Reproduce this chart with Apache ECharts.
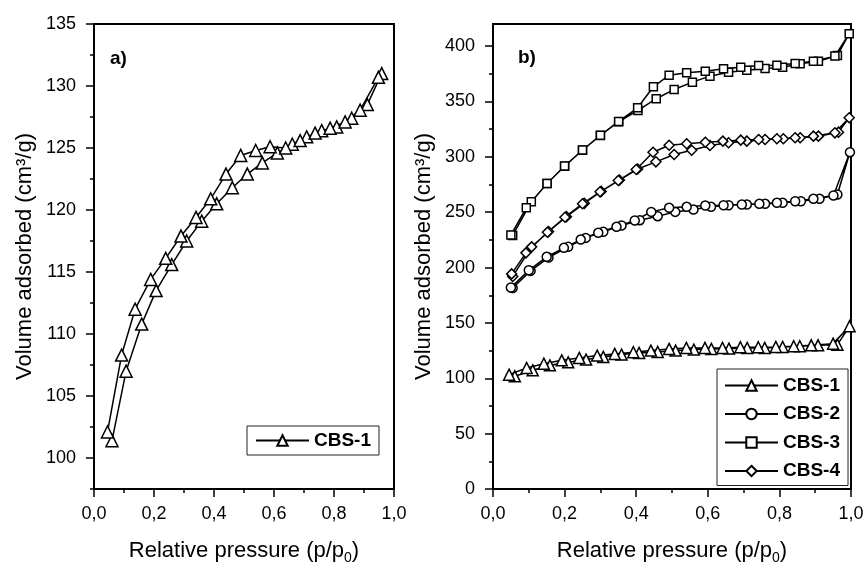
<!DOCTYPE html>
<html>
<head>
<meta charset="utf-8">
<script src="https://cdn.jsdelivr.net/npm/echarts@6/dist/echarts.min.js"></script>
<style>
  html, body { margin: 0; padding: 0; background: #fff; }
  #chart { width: 864px; height: 562px; }
</style>
</head>
<body>
<div id="chart"></div>
<script>
// panel a) CBS-1, adsorption + desorption branch
const aAdsP = [0.06, 0.107, 0.159, 0.207, 0.259, 0.309, 0.359, 0.409, 0.461, 0.511, 0.561, 0.611, 0.661, 0.709, 0.759, 0.809, 0.859, 0.911, 0.959]
const aAdsV = [101.4, 107.0, 110.8, 113.5, 115.6, 117.5, 119.1, 120.5, 121.8, 122.9, 123.8, 124.6, 125.3, 125.9, 126.4, 126.7, 127.4, 128.5, 131.0]
const aDesP = [0.948, 0.887, 0.837, 0.787, 0.737, 0.687, 0.639, 0.587, 0.539, 0.489, 0.44, 0.389, 0.34, 0.29, 0.239, 0.189, 0.137, 0.092, 0.045]
const aDesV = [130.7, 128.05, 127.1, 126.6, 126.2, 125.6, 125.0, 125.1, 124.8, 124.4, 122.9, 120.9, 119.4, 117.9, 116.1, 114.4, 112.0, 108.3, 102.1]

// panel b) all samples
const b1AdsP = [0.061, 0.111, 0.159, 0.21, 0.26, 0.308, 0.359, 0.408, 0.46, 0.51, 0.561, 0.61, 0.659, 0.71, 0.759, 0.809, 0.857, 0.908, 0.962, 0.996]
const b1AdsV = [101.8, 107.2, 111.7, 114.4, 116.9, 119.3, 121.4, 122.9, 123.8, 125.0, 125.9, 126.5, 126.8, 127.4, 127.4, 128.3, 128.9, 129.8, 130.4, 147.0]
const b1DesP = [0.95, 0.889, 0.84, 0.79, 0.741, 0.691, 0.641, 0.592, 0.54, 0.492, 0.441, 0.392, 0.34, 0.291, 0.241, 0.192, 0.142, 0.094, 0.045]
const b1DesV = [131.3, 129.8, 128.9, 128.3, 128.0, 128.0, 127.4, 127.4, 127.4, 126.5, 125.0, 123.5, 122.0, 120.5, 118.4, 116.2, 113.2, 109.3, 103.3]

const b2AdsP = [0.055, 0.105, 0.155, 0.21, 0.259, 0.308, 0.359, 0.41, 0.46, 0.509, 0.56, 0.609, 0.658, 0.709, 0.76, 0.809, 0.86, 0.912, 0.962, 0.997]
const b2AdsV = [181.5, 197.0, 209.0, 218.7, 226.8, 232.3, 238.0, 242.8, 246.4, 250.3, 252.4, 254.9, 256.3, 256.9, 257.6, 258.5, 259.9, 262.1, 266.0, 304.2]
const b2DesP = [0.951, 0.895, 0.844, 0.793, 0.744, 0.695, 0.644, 0.593, 0.541, 0.492, 0.442, 0.396, 0.345, 0.294, 0.245, 0.198, 0.15, 0.1, 0.05]
const b2DesV = [265.1, 262.1, 259.9, 258.5, 257.6, 256.9, 256.3, 256.0, 254.9, 254.0, 250.3, 242.5, 236.8, 231.4, 225.3, 217.8, 209.7, 197.6, 182.0]

const b3AdsP = [0.055, 0.107, 0.151, 0.2, 0.25, 0.3, 0.351, 0.405, 0.456, 0.506, 0.557, 0.606, 0.658, 0.709, 0.76, 0.809, 0.858, 0.909, 0.962, 0.995]
const b3AdsV = [229.0, 259.4, 275.9, 291.6, 306.0, 319.3, 331.7, 341.9, 352.5, 360.9, 367.5, 372.9, 376.5, 378.3, 379.8, 381.0, 384.1, 386.4, 391.6, 411.2]
const b3DesP = [0.955, 0.895, 0.844, 0.793, 0.742, 0.692, 0.644, 0.593, 0.541, 0.492, 0.448, 0.404, 0.351, 0.3, 0.25, 0.2, 0.151, 0.093, 0.05]
const b3DesV = [391.0, 386.4, 384.4, 382.8, 382.6, 381.0, 379.6, 377.4, 376.0, 373.8, 363.3, 344.3, 332.0, 319.5, 306.2, 291.8, 276.0, 254.0, 229.5]

const b4AdsP = [0.055, 0.108, 0.155, 0.205, 0.255, 0.302, 0.353, 0.404, 0.455, 0.506, 0.555, 0.606, 0.658, 0.709, 0.76, 0.811, 0.858, 0.909, 0.965, 0.995]
const b4AdsV = [192.0, 218.7, 232.5, 246.0, 258.0, 268.8, 279.0, 289.0, 295.5, 302.1, 306.0, 310.3, 312.7, 314.2, 315.7, 316.3, 317.2, 318.7, 322.3, 335.3]
const b4DesP = [0.955, 0.895, 0.844, 0.793, 0.742, 0.692, 0.642, 0.593, 0.541, 0.492, 0.447, 0.4, 0.35, 0.299, 0.25, 0.201, 0.152, 0.092, 0.052]
const b4DesV = [321.7, 318.7, 317.2, 316.3, 315.7, 315.1, 314.2, 313.2, 311.8, 310.5, 304.2, 288.6, 278.6, 268.4, 257.6, 245.5, 231.9, 213.3, 194.3]

// ticks
const yTicksA = [100, 105, 110, 115, 120, 125, 130, 135]
const yMinorA = [97.5, 102.5, 107.5, 112.5, 117.5, 122.5, 127.5, 132.5]
const yTicksB = [0, 50, 100, 150, 200, 250, 300, 350, 400]
const yMinorB = [25, 75, 125, 175, 225, 275, 325, 375]

const FONT = 'Liberation Sans, Arial, sans-serif'

// adsorption points then desorption points -> one closed loop
function loop(ap, av, dp, dv) {
  const out = []
  for (let i = 0; i < ap.length; i++) out.push([ap[i], av[i]])
  for (let i = 0; i < dp.length; i++) out.push([dp[i], dv[i]])
  return out
}

function xAxis(gridIndex) {
  return {
    gridIndex: gridIndex,
    type: 'value',
    min: 0,
    max: 1,
    interval: 0.2,
    axisLine: { show: true, onZero: false, lineStyle: { color: '#000', width: 2 } },
    axisTick: { show: true, length: 8, lineStyle: { color: '#000', width: 1.5 } },
    minorTick: { show: true, splitNumber: 2, length: 4, lineStyle: { color: '#000', width: 1.5 } },
    axisLabel: {
      color: '#000', fontSize: 18, fontFamily: FONT, margin: 16,
      formatter: (v) => v.toFixed(1).replace('.', ',')
    },
    splitLine: { show: false },
    name: '{t|Relative pressure (p/p}{s|0}{t|)}',
    nameLocation: 'middle',
    nameGap: 48,
    nameTextStyle: {
      rich: {
        t: { fontSize: 22, fontFamily: FONT, color: '#000' },
        s: { fontSize: 14, fontFamily: FONT, color: '#000', padding: [14, 0, 0, 0] }
      }
    }
  }
}

function yMajor(gridIndex, min, max, ticks) {
  return {
    gridIndex: gridIndex,
    type: 'value',
    position: 'left',
    offset: 0,
    min: min,
    max: max,
    axisLine: { show: true, lineStyle: { color: '#000', width: 2 } },
    axisTick: { show: true, customValues: ticks, length: 8, lineStyle: { color: '#000', width: 1.5 } },
    axisLabel: { customValues: ticks, color: '#000', fontSize: 18, fontFamily: FONT, margin: 18 },
    splitLine: { show: false },
    name: 'Volume adsorbed (cm³/g)',
    nameLocation: 'middle',
    nameGap: 58,
    nameTextStyle: { fontSize: 22, fontFamily: FONT, color: '#000' }
  }
}

function yMinor(gridIndex, min, max, ticks) {
  return {
    gridIndex: gridIndex,
    type: 'value',
    position: 'left',
    offset: 0,
    min: min,
    max: max,
    axisLine: { show: false },
    axisTick: { show: true, customValues: ticks, length: 4, lineStyle: { color: '#000', width: 1.5 } },
    axisLabel: { show: false },
    splitLine: { show: false }
  }
}

function series(name, xi, yi, data, symbol, size) {
  return {
    name: name,
    type: 'line',
    xAxisIndex: xi,
    yAxisIndex: yi,
    data: data,
    symbol: symbol,
    symbolSize: size,
    showSymbol: true,
    showAllSymbol: true,
    lineStyle: { color: '#000', width: 1.5 },
    itemStyle: { color: '#fff', borderColor: '#000', borderWidth: 1.5 },
    emphasis: { disabled: true }
  }
}

const legendText = { color: '#000', fontSize: 19, fontWeight: 'bold', fontFamily: FONT }

const chart = echarts.init(document.getElementById('chart'), null, { renderer: 'canvas' })
chart.setOption({
  animation: false,
  backgroundColor: '#fff',
  title: [
    { text: 'a)', left: 110, top: 49, textStyle: { color: '#000', fontSize: 19, fontWeight: 'bold', fontFamily: FONT }, padding: 0 },
    { text: 'b)', left: 518, top: 48, textStyle: { color: '#000', fontSize: 19, fontWeight: 'bold', fontFamily: FONT }, padding: 0 }
  ],
  grid: [
    { left: 94, top: 24, width: 300, height: 465, show: true, borderColor: '#000', borderWidth: 2, containLabel: false, outerBoundsMode: 'none' },
    { left: 493, top: 24, width: 358, height: 465, show: true, borderColor: '#000', borderWidth: 2, containLabel: false, outerBoundsMode: 'none' }
  ],
  legend: [
    {
      data: ['CBS-1'], left: 247, top: 426, orient: 'vertical',
      itemWidth: 53, itemHeight: 13, padding: [5, 8, 5, 8],
      borderColor: '#222', borderWidth: 1, textStyle: legendText, selectedMode: false
    },
    {
      data: ['CBS-1', 'CBS-2', 'CBS-3', 'CBS-4'], left: 717, top: 369, orient: 'vertical',
      itemWidth: 53, itemHeight: 13, itemGap: 9.5, padding: [7, 8, 5, 7],
      borderColor: '#222', borderWidth: 1, textStyle: legendText, selectedMode: false
    }
  ],
  xAxis: [xAxis(0), xAxis(1)],
  yAxis: [
    yMajor(0, 97.5, 135, yTicksA),
    yMinor(0, 97.5, 135, yMinorA),
    yMajor(1, 0, 420, yTicksB),
    yMinor(1, 0, 420, yMinorB)
  ],
  series: [
    series('CBS-1', 0, 0, loop(aAdsP, aAdsV, aDesP, aDesV), 'triangle', 12),
    series('CBS-1', 1, 2, loop(b1AdsP, b1AdsV, b1DesP, b1DesV), 'triangle', 11),
    series('CBS-2', 1, 2, loop(b2AdsP, b2AdsV, b2DesP, b2DesV), 'circle', 9),
    series('CBS-3', 1, 2, loop(b3AdsP, b3AdsV, b3DesP, b3DesV), 'rect', 8),
    series('CBS-4', 1, 2, loop(b4AdsP, b4AdsV, b4DesP, b4DesV), 'diamond', 10)
  ]
})
</script>
</body>
</html>
